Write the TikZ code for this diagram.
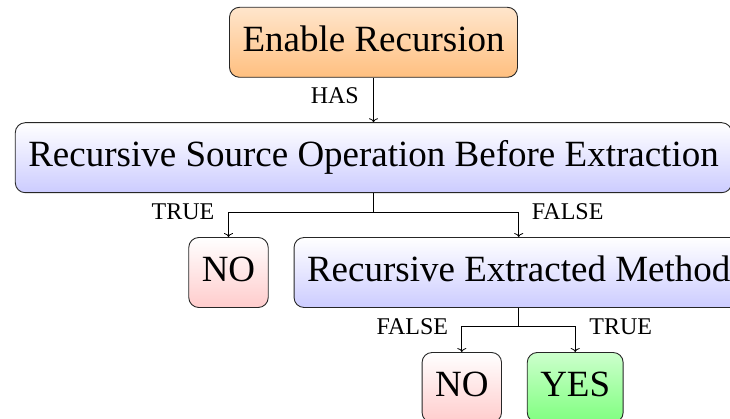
\documentclass[tikz,border=0pt]{standalone}
\usepackage{fontspec}
\setmainfont{Liberation Serif}
\usetikzlibrary{arrows.meta,calc}

\begin{document}
\begin{tikzpicture}[x=1pt,y=1pt,
  box/.style={draw=black!85, line width=0.9pt, rounded corners=10pt,
    inner xsep=13pt, inner ysep=0pt, minimum height=70pt,
    text height=27.5pt, text depth=9pt,
    font=\fontsize{37}{44}\selectfont},
  startbox/.style={box, top color=orange!20, bottom color=orange!50},
  askbox/.style={box, top color=white, bottom color=blue!20},
  nobox/.style={box, top color=white, bottom color=red!20},
  yesbox/.style={box, top color=green!20, bottom color=green!50},
  conn/.style={line width=0.8pt, -{To[length=4pt,width=9pt]}},
  lbl/.style={inner sep=0pt, font=\fontsize{24}{29}\selectfont}
]
\useasboundingbox (0,0) rectangle (730,-419);

% decision nodes
\node[startbox] (enable) at (373.5,-42.3) {Enable Recursion};
\node[askbox] (source) at (373.5,-157.7) {Recursive Source Operation Before Extraction};
\node[nobox] (no1) at (228.5,-272.5) {NO};
\node[askbox] (ext) at (518.7,-272.5) {Recursive Extracted Method};
\node[nobox] (no2) at (461.8,-387.5) {NO};
\node[yesbox] (yes) at (575.2,-387.5) {YES};

% branch points
\coordinate (split1) at ($(source.south)+(0,-19)$);
\coordinate (split2) at ($(ext.south)+(0,-18.5)$);

% connectors
\draw[conn] (enable.south) -- (source.north);
\draw[conn] (source.south) -- (split1) -| (no1.north);
\draw[conn] (split1) -| (ext.north);
\draw[conn] (ext.south) -- (split2) -| (no2.north);
\draw[conn] (split2) -| (yes.north);

% connector labels
\node[lbl, anchor=east] (has) at (359,-96) {HAS};
\node[lbl, anchor=east] (t1) at ($(no1.north |- split1)+(-14,0)$) {TRUE};
\node[lbl, anchor=west] (f1) at ($(ext.north |- split1)+(13,0)$) {FALSE};
\node[lbl, anchor=east] (f2) at ($(no2.north |- split2)+(-13.5,0)$) {FALSE};
\node[lbl, anchor=west] (t2) at ($(yes.north |- split2)+(14,0)$) {TRUE};
\end{tikzpicture}
\end{document}
